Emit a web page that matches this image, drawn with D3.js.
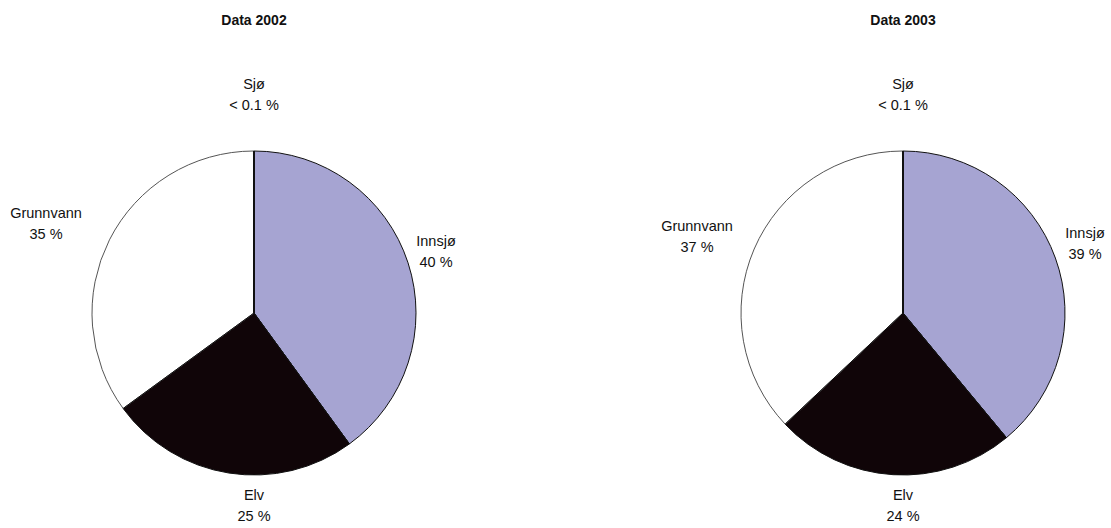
<!DOCTYPE html>
<html>
<head>
<meta charset="utf-8">
<script src="https://cdn.jsdelivr.net/npm/d3@7"></script>
<style>
  html, body { margin: 0; padding: 0; background: #fff; }
  svg { display: block; font-family: "Liberation Sans", Arial, sans-serif; }
</style>
</head>
<body>
<svg id="chart" width="1111" height="528"></svg>
<script>
// Water source shares (percent), slices run clockwise from 12 o'clock
const categories = ["Innsjø", "Elv", "Grunnvann", "Sjø"];
const years = ["2002", "2003"];
const values2002 = [40, 25, 35, 0.05];
const values2003 = [39, 24, 37, 0.05];
const labels2002 = ["40 %", "25 %", "35 %", "< 0.1 %"];
const labels2003 = ["39 %", "24 %", "37 %", "< 0.1 %"];
const colors = ["#a6a4d2", "#100508", "#ffffff", "#000000"];

// Layout
const W = 1111, H = 528;
const radius = 162;
const centers = [[254, 313], [903, 313]];
// label anchor offsets (name line) from each pie centre
const labelOffsets = [
  [[182, -67], [0, 187], [-208, -95], [0, -224]],
  [[182, -75], [0, 187], [-206, -82], [0, -224]]
];

const svg = d3.select("#chart");
const pie = d3.pie().sort(null).value(d => d.value);
const arc = d3.arc().innerRadius(0).outerRadius(radius);

const datasets = [
  { year: years[0], values: values2002, labels: labels2002 },
  { year: years[1], values: values2003, labels: labels2003 }
];

datasets.forEach((ds, i) => {
  const [cx, cy] = centers[i];
  const rows = categories.map((c, k) => ({ name: c, value: ds.values[k], label: ds.labels[k], color: colors[k] }));
  const g = svg.append("g").attr("transform", `translate(${cx},${cy})`);

  // title
  svg.append("text")
    .attr("x", cx).attr("y", 25)
    .attr("text-anchor", "middle")
    .attr("font-weight", "bold")
    .attr("font-size", 14)
    .attr("fill", "#111")
    .text("Data " + ds.year);

  // slices
  g.selectAll("path.slice")
    .data(pie(rows))
    .join("path")
    .attr("class", "slice")
    .attr("d", arc)
    .attr("fill", d => d.data.color)
    .attr("stroke", d => d.data.name === "Grunnvann" ? "#555" : "#111")
    .attr("stroke-width", 1);

  // radial dividers drawn on top so the thin "Sjø" wedge shows as a dark line
  g.selectAll("line.divider")
    .data(pie(rows))
    .join("line")
    .attr("class", "divider")
    .attr("x1", 0).attr("y1", 0)
    .attr("x2", d => radius * Math.sin(d.startAngle))
    .attr("y2", d => -radius * Math.cos(d.startAngle))
    .attr("stroke", "#111")
    .attr("stroke-width", d => d.index === 0 ? 2 : 1);

  // labels
  const lab = g.selectAll("text.lab")
    .data(rows)
    .join("text")
    .attr("class", "lab")
    .attr("text-anchor", "middle")
    .attr("font-size", 14.5)
    .attr("fill", "#111")
    .attr("transform", (d, k) => `translate(${labelOffsets[i][k][0]},${labelOffsets[i][k][1]})`);
  lab.append("tspan").attr("x", 0).attr("dy", 0).text(d => d.name);
  lab.append("tspan").attr("x", 0).attr("dy", 21).text(d => d.label);
});
</script>
</body>
</html>
